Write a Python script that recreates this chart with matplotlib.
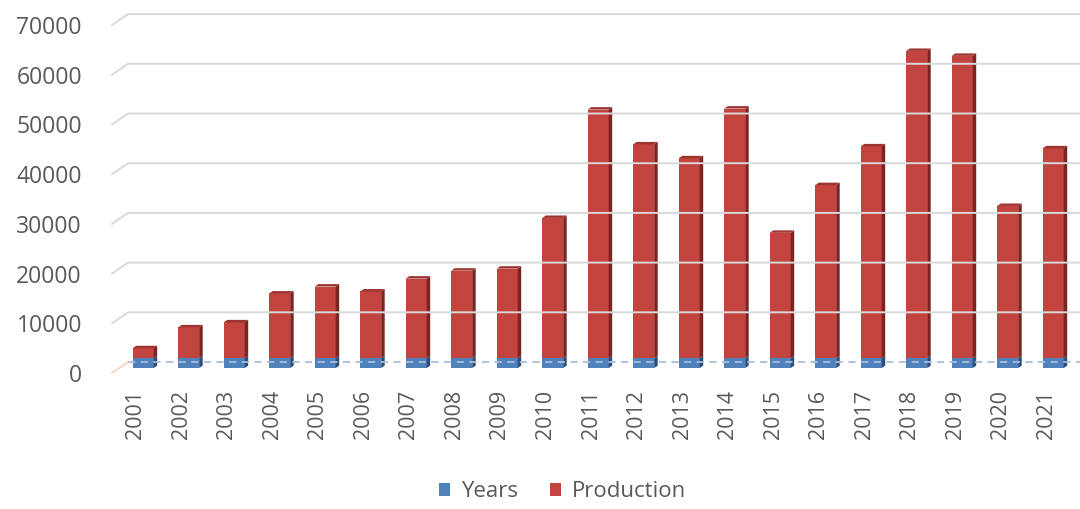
import matplotlib.pyplot as plt
from matplotlib.patches import Patch

plt.rcParams['font.family'] = ['Open Sans', 'DejaVu Sans']

years = [2001, 2002, 2003, 2004, 2005, 2006, 2007, 2008, 2009, 2010, 2011,
         2012, 2013, 2014, 2015, 2016, 2017, 2018, 2019, 2020, 2021]
production = [2000, 6200, 7200, 13000, 14400, 13400, 16000, 17600, 18000, 28200, 50000,
              43000, 40200, 50200, 25200, 34800, 42600, 61800, 60800, 30600, 42200]
year_labels = [str(y) for y in years]
y_ticks = [0, 10000, 20000, 30000, 40000, 50000, 60000, 70000]

# fake 3d: depth offset of the back wall, in data units
DX = 0.352
DY = 2213
zf = 0.45   # depth of bar front face
dz = 0.22   # bar depth
w = 0.46    # bar width

blue_front, blue_side, blue_top = "#4f81bd", "#2c4d78", "#3e6aa3"
red_front, red_side, red_top = "#c3443e", "#7a2521", "#9c3430"

fig = plt.figure(figsize=(10.8, 5.09), dpi=100)
ax = fig.add_axes([100/1080, 1 - 380/509, 980/1080, 375/509])
ax.set_xlim(-0.791, 20.747)
ax.set_ylim(-1408, 74044)

# back wall gridlines with slanted floor/side edge
x_front = -0.527
for v in y_ticks:
    if v == 0:
        ax.plot([x_front, x_front + DX], [v, v + DY], color="#f6d5c0", lw=1.3)
        ax.plot([x_front + DX, 21], [v + DY, v + DY], color="#a9bddc", lw=1.3, linestyle=(0, (4, 3)))
    else:
        ax.plot([x_front, x_front + DX, 21], [v, v + DY, v + DY], color="#d9d9d9", lw=1.4)

for i in range(len(years)):
    left = i - w/2 + zf*DX
    right = left + w
    segs = [(0, years[i], blue_front, blue_side),
            (years[i], years[i] + production[i], red_front, red_side)]
    for bottom, top, cf, cs in segs:
        ax.fill([left, right, right, left],
                [bottom + zf*DY, bottom + zf*DY, top + zf*DY, top + zf*DY],
                color=cf, lw=0)
        ax.fill([right, right + dz*DX, right + dz*DX, right],
                [bottom + zf*DY, bottom + (zf + dz)*DY, top + (zf + dz)*DY, top + zf*DY],
                color=cs, lw=0)
    top = years[i] + production[i]
    ax.fill([left, right, right + dz*DX, left + dz*DX],
            [top + zf*DY, top + zf*DY, top + (zf + dz)*DY, top + (zf + dz)*DY],
            color=red_top, lw=0)

ax.set_yticks(y_ticks)
ax.set_yticklabels([str(v) for v in y_ticks], fontsize=16.5, color="#595959")
ax.set_xticks(range(len(years)))
ax.set_xticklabels(year_labels, rotation=90, fontsize=15.5, color="#595959")
ax.tick_params(axis="y", length=0, pad=13)
ax.tick_params(axis="x", length=0, pad=7)
for s in ax.spines.values():
    s.set_visible(False)

handles = [Patch(facecolor=blue_front, label="Years"),
           Patch(facecolor=red_front, label="Production")]
leg = fig.legend(handles=handles, loc="center", bbox_to_anchor=(0.521, 0.034), ncol=2,
                 frameon=False, fontsize=16, handlelength=0.5, handleheight=0.5,
                 handletextpad=0.5, columnspacing=1.4)
for t in leg.get_texts():
    t.set_color("#595959")

plt.savefig("out.png", dpi=100)
